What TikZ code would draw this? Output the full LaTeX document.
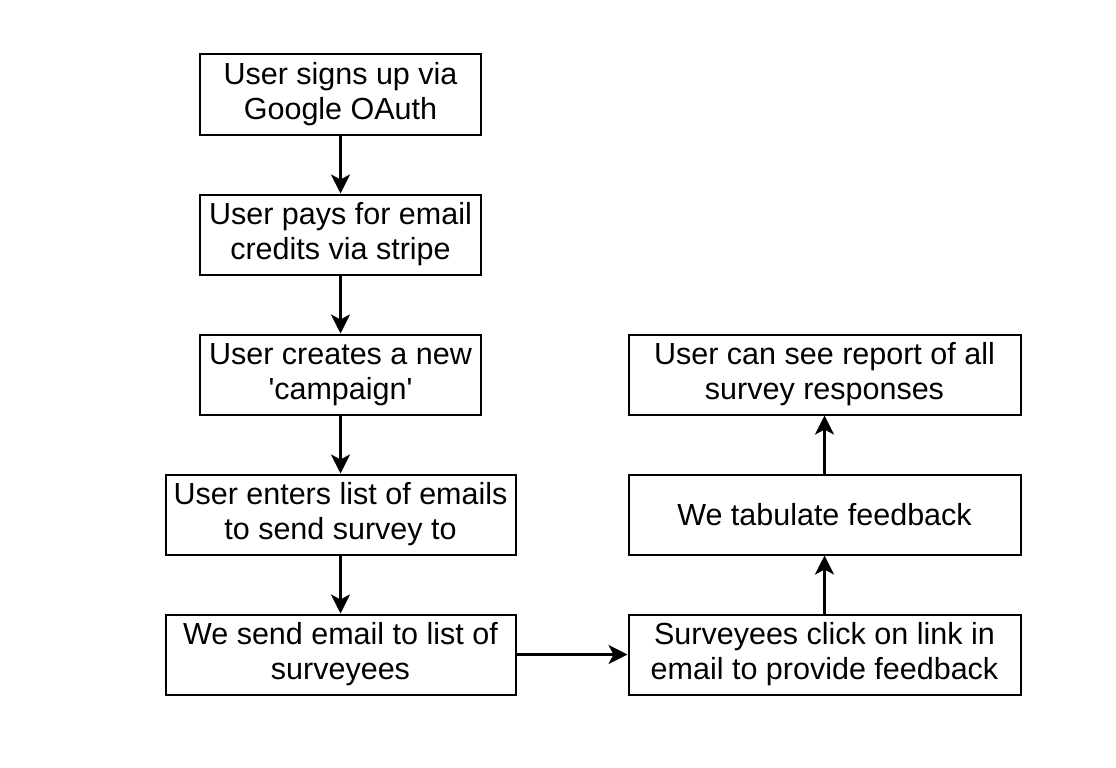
\documentclass[tikz,border=0pt]{standalone}
\usepackage{fontspec}
\setmainfont{Liberation Sans}
\usetikzlibrary{positioning,arrows.meta}

\begin{document}
\begin{tikzpicture}[
      box/.style={draw=black,line width=2pt,minimum height=80pt,minimum width=281pt,
                  align=center,inner sep=0pt,font=\fontsize{30.5}{35}\selectfont},
      wide/.style={box,minimum width=350pt},
      wider/.style={box,minimum width=392pt},
      fl/.style={-{Stealth[length=19pt,width=19pt,inset=5pt]},line width=3pt,black},
      node distance=58pt and 111pt]
    \useasboundingbox (0,0) rectangle (1116pt,-768pt);
    \node[box] (signup) at (340.5pt,-94.5pt) {User signs up via\\Google OAuth};
    \node[box,below=of signup] (pay) {User pays for email\\credits via stripe};
    \node[box,below=of pay] (camp) {User creates a new\\\textquotesingle campaign\textquotesingle};
    \node[wide,below=of camp] (list) {User enters list of emails\\to send survey to};
    \node[wide,below=of list] (send) {We send email to list of\\surveyees};
    \node[wider,right=of send] (click) {Surveyees click on link in\\email to provide feedback};
    \node[wider,above=of click] (tab) {We tabulate feedback};
    \node[wider,above=of tab] (report) {User can see report of all\\survey responses};
    \draw[fl] (signup) -- (pay);
    \draw[fl] (pay) -- (camp);
    \draw[fl] (camp) -- (list);
    \draw[fl] (list) -- (send);
    \draw[fl] (send) -- (click);
    \draw[fl] (click) -- (tab);
    \draw[fl] (tab) -- (report);
  \end{tikzpicture}
\end{document}
